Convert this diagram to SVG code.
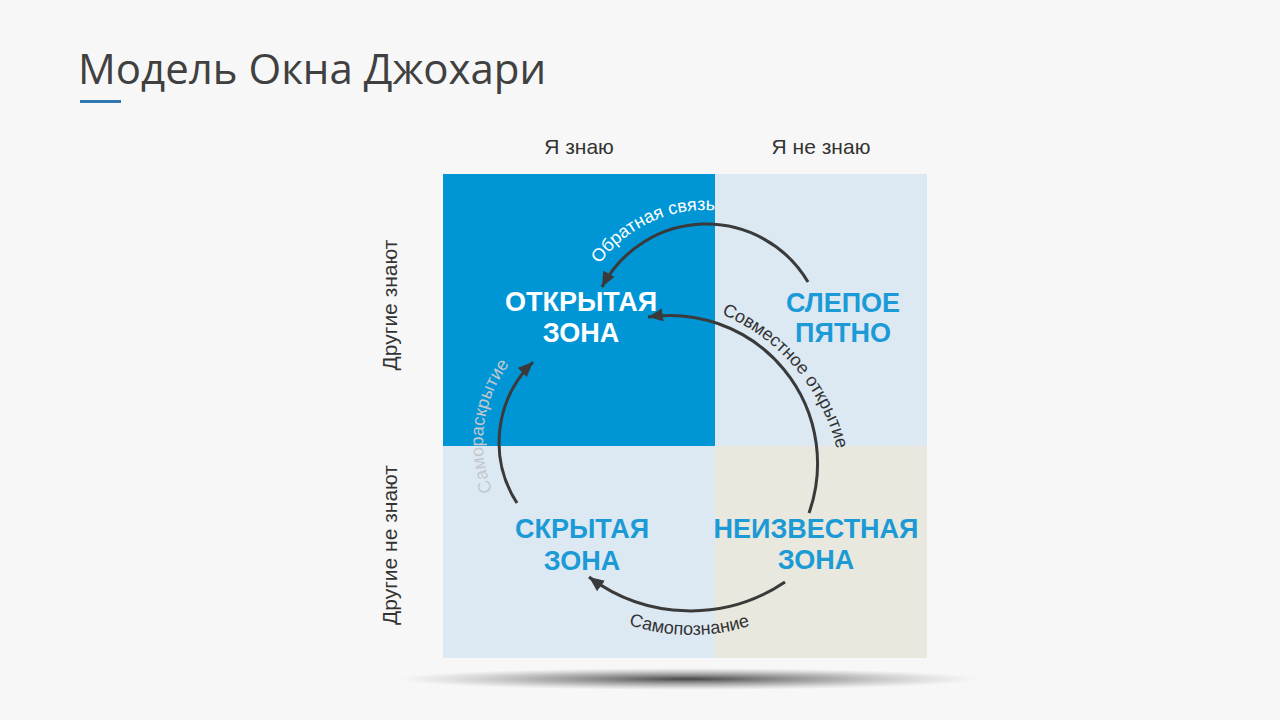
<svg xmlns="http://www.w3.org/2000/svg" width="1280" height="720" viewBox="0 0 1280 720">
<style>
.title{font-family:"Open Sans","Noto Sans",sans-serif;font-size:42px;fill:#404040}
.hdr{font-family:"Liberation Sans",Arial,sans-serif;font-size:21px;fill:#333}
.zone{font-family:"Liberation Sans",Arial,sans-serif;font-size:27px;font-weight:bold;text-anchor:middle}
.zw{fill:#fff}
.zb{fill:#1b9ad6}
.arc{fill:none;stroke:#3a3a3a;stroke-width:3;marker-end:url(#ah)}
.lbl{font-family:"Liberation Sans",Arial,sans-serif;font-size:18px}
</style>
<defs>
<marker id="ah" markerUnits="userSpaceOnUse" markerWidth="16" markerHeight="14" refX="15" refY="6.5" orient="auto">
<path d="M0,0 L15,6.5 L0,13 z" fill="#3a3a3a"/>
</marker>
<radialGradient id="sh" cx="0.5" cy="0.5" r="0.5">
<stop offset="0" stop-color="#3c3c3c" stop-opacity="0.95"/>
<stop offset="0.55" stop-color="#777" stop-opacity="0.5"/>
<stop offset="1" stop-color="#999" stop-opacity="0"/>
</radialGradient>
<path id="pObr" d="M 586.4 286.2 A 132 132 0 0 1 740.2 214.5"/>
<path id="pSov" d="M 694.8 304.8 A 200 200 0 0 1 841.9 477.1"/>
<path id="pSam" d="M 500.1 506 A 128 128 0 0 1 520.5 351.5"/>
<path id="pPoz" d="M 609 616.8 A 194 194 0 0 0 769.9 618.2"/>
</defs>
<rect width="1280" height="720" fill="#f7f7f7"/>
<g id="title">
<text class="title" x="78" y="84">Модель Окна Джохари</text>
<rect x="80" y="100" width="41" height="3" fill="#2f78b4"/>
</g>
<g id="headers">
<text class="hdr" x="579" y="154" text-anchor="middle">Я знаю</text>
<text class="hdr" x="821" y="154" text-anchor="middle">Я не знаю</text>
<text class="hdr" transform="translate(397 305) rotate(-90)" text-anchor="middle">Другие знают</text>
<text class="hdr" transform="translate(397 545) rotate(-90)" text-anchor="middle">Другие не знают</text>
</g>
<ellipse cx="688" cy="679" rx="292" ry="11" fill="url(#sh)"/>
<g id="open-zone">
<rect x="443" y="174" width="272" height="272" fill="#0096d6"/>
<text class="zone zw" x="581" y="311">ОТКРЫТАЯ</text>
<text class="zone zw" x="581" y="342">ЗОНА</text>
</g>
<g id="blind-spot">
<rect x="715" y="174" width="212" height="272" fill="#dce9f3"/>
<text class="zone zb" x="843" y="312">СЛЕПОЕ</text>
<text class="zone zb" x="843" y="342">ПЯТНО</text>
</g>
<g id="hidden-zone">
<rect x="443" y="446" width="272" height="212" fill="#dce9f3"/>
<text class="zone zb" x="582" y="538">СКРЫТАЯ</text>
<text class="zone zb" x="582" y="570">ЗОНА</text>
</g>
<g id="unknown-zone">
<rect x="715" y="446" width="212" height="212" fill="#e8e8de"/>
<text class="zone zb" x="816" y="538">НЕИЗВЕСТНАЯ</text>
<text class="zone zb" x="816" y="569">ЗОНА</text>
</g>
<g id="connectors">
<path class="arc" d="M 808 282 A 118 118 0 0 0 602 287"/>
<path class="arc" d="M 809 513 A 148 148 0 0 0 648 317"/>
<path class="arc" d="M 517 503 A 112 112 0 0 1 533 362"/>
<path class="arc" d="M 785 582 A 169 169 0 0 1 589 577"/>
<text class="lbl" fill="#ffffff"><textPath href="#pObr" startOffset="50%" text-anchor="middle">Обратная связь</textPath></text>
<text class="lbl" fill="#333333"><textPath href="#pSov" startOffset="50%" text-anchor="middle">Совместное открытие</textPath></text>
<text class="lbl" fill="#c4c8cc"><textPath href="#pSam" startOffset="50%" text-anchor="middle">Самораскрытие</textPath></text>
<text class="lbl" fill="#333333"><textPath href="#pPoz" startOffset="50%" text-anchor="middle">Самопознание</textPath></text>
</g>
</svg>
